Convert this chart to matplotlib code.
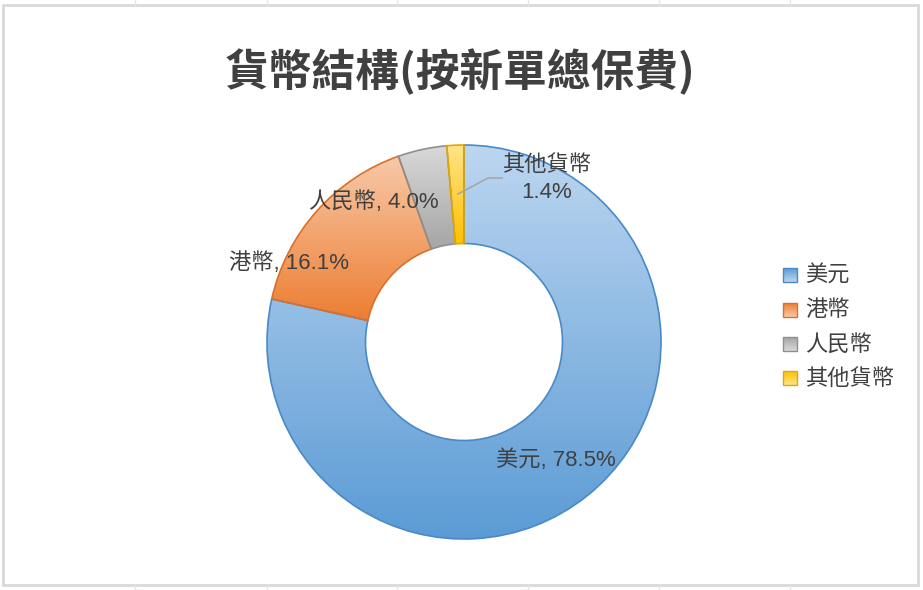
import numpy as np
import matplotlib
matplotlib.use("Agg")
import matplotlib.pyplot as plt
from matplotlib.colors import LinearSegmentedColormap
from matplotlib.patches import Rectangle

plt.rcParams['font.family'] = ['Noto Sans CJK TC', 'DejaVu Sans']
lab_fam = ['Liberation Sans', 'Noto Sans CJK TC']

# data
categories = ['美元', '港幣', '人民幣', '其他貨幣']
shares = [78.5, 16.1, 4.0, 1.4]
title = '貨幣結構(按新單總保費)'

# gradient (top, bottom) and edge colours per slice
grad_top = ['#bcd6f0', '#f7c9a8', '#d9d9d9', '#ffe38a']
grad_bot = ['#5b9bd5', '#ed7d31', '#a5a5a5', '#ffc000']
edges = ['#4a89c8', '#d9702b', '#8f8f8f', '#e0a800']

W, H = 923, 590
fig = plt.figure(figsize=(W / 100, H / 100), dpi=100)

# donut axes, placed in pixel space
cx, cy, R = 464, 342, 197
pie_ax = fig.add_axes([(cx - R) / W, 1 - (cy + R) / H, 2 * R / W, 2 * R / H])
wedges, _ = pie_ax.pie(shares, startangle=90, counterclock=False, radius=1,
                       wedgeprops=dict(width=0.5, linewidth=0))
pie_ax.axis('off')

grad = np.linspace(0, 1, 256).reshape(-1, 1)
for w, c0, c1, ec in zip(wedges, grad_top, grad_bot, edges):
    ext = w.get_path().get_extents()
    cmap = LinearSegmentedColormap.from_list('g', [c0, c1])
    im = pie_ax.imshow(grad, cmap=cmap, aspect='auto',
                       extent=[ext.x0, ext.x1, ext.y0, ext.y1], origin='upper')
    im.set_clip_path(w)
    w.set_facecolor('none')
    w.set_edgecolor(ec)
    w.set_linewidth(1.2)
    w.set_zorder(3)
pie_ax.set_xlim(-1, 1)
pie_ax.set_ylim(-1, 1)

# overlay in pixel coordinates for frame, text and legend
ov = fig.add_axes([0, 0, 1, 1])
ov.axis('off')
ov.patch.set_alpha(0)

# faint sheet grid outside the chart frame
for gx in [135, 267, 397, 528, 659, 790]:
    ov.plot([gx, gx], [0, 5], color='#e6e6e6', lw=1)
    ov.plot([gx, gx], [585, H], color='#e6e6e6', lw=1)
ov.add_patch(Rectangle((3, 5), 915, 580, facecolor='none',
                       edgecolor='#d9d9d9', lw=2))

ov.text(460, 72, title, ha='center', va='center', fontsize=31.5,
        fontweight='bold', color='#404040')

txt = '#404040'
fs = 16
ov.text(556, 460, f'{categories[0]}, {shares[0]:.1f}%', ha='center', va='center',
        fontsize=fs, color=txt, family=lab_fam)
ov.text(289, 263, f'{categories[1]}, {shares[1]:.1f}%', ha='center', va='center',
        fontsize=fs, color=txt, family=lab_fam)
ov.text(374, 202, f'{categories[2]}, {shares[2]:.1f}%', ha='center', va='center',
        fontsize=fs, color=txt, family=lab_fam)
ov.text(547, 165, categories[3], ha='center', va='center', fontsize=fs,
        color=txt, family=lab_fam)
ov.text(547, 193, f'{shares[3]:.1f}%', ha='center', va='center', fontsize=fs,
        color=txt, family=lab_fam)
ov.plot([458, 488, 502], [194, 178, 178], color='#a6a6a6', lw=1.2)

# legend
ys = [275, 310, 344, 378]
sq = 14
for name, c0, c1, ec, y in zip(categories, grad_top, grad_bot, edges, ys):
    cmap = LinearSegmentedColormap.from_list('g', [c0, c1])
    ov.imshow(grad, cmap=cmap, aspect='auto',
              extent=[783, 783 + sq, y + sq / 2, y - sq / 2], origin='lower')
    ov.add_patch(Rectangle((783, y - sq / 2), sq, sq, facecolor='none',
                           edgecolor=ec, lw=1))
    ov.text(805, y, name, ha='left', va='center', fontsize=16, color=txt)
ov.set_xlim(0, W)
ov.set_ylim(H, 0)

fig.savefig('out.png', dpi=100)
